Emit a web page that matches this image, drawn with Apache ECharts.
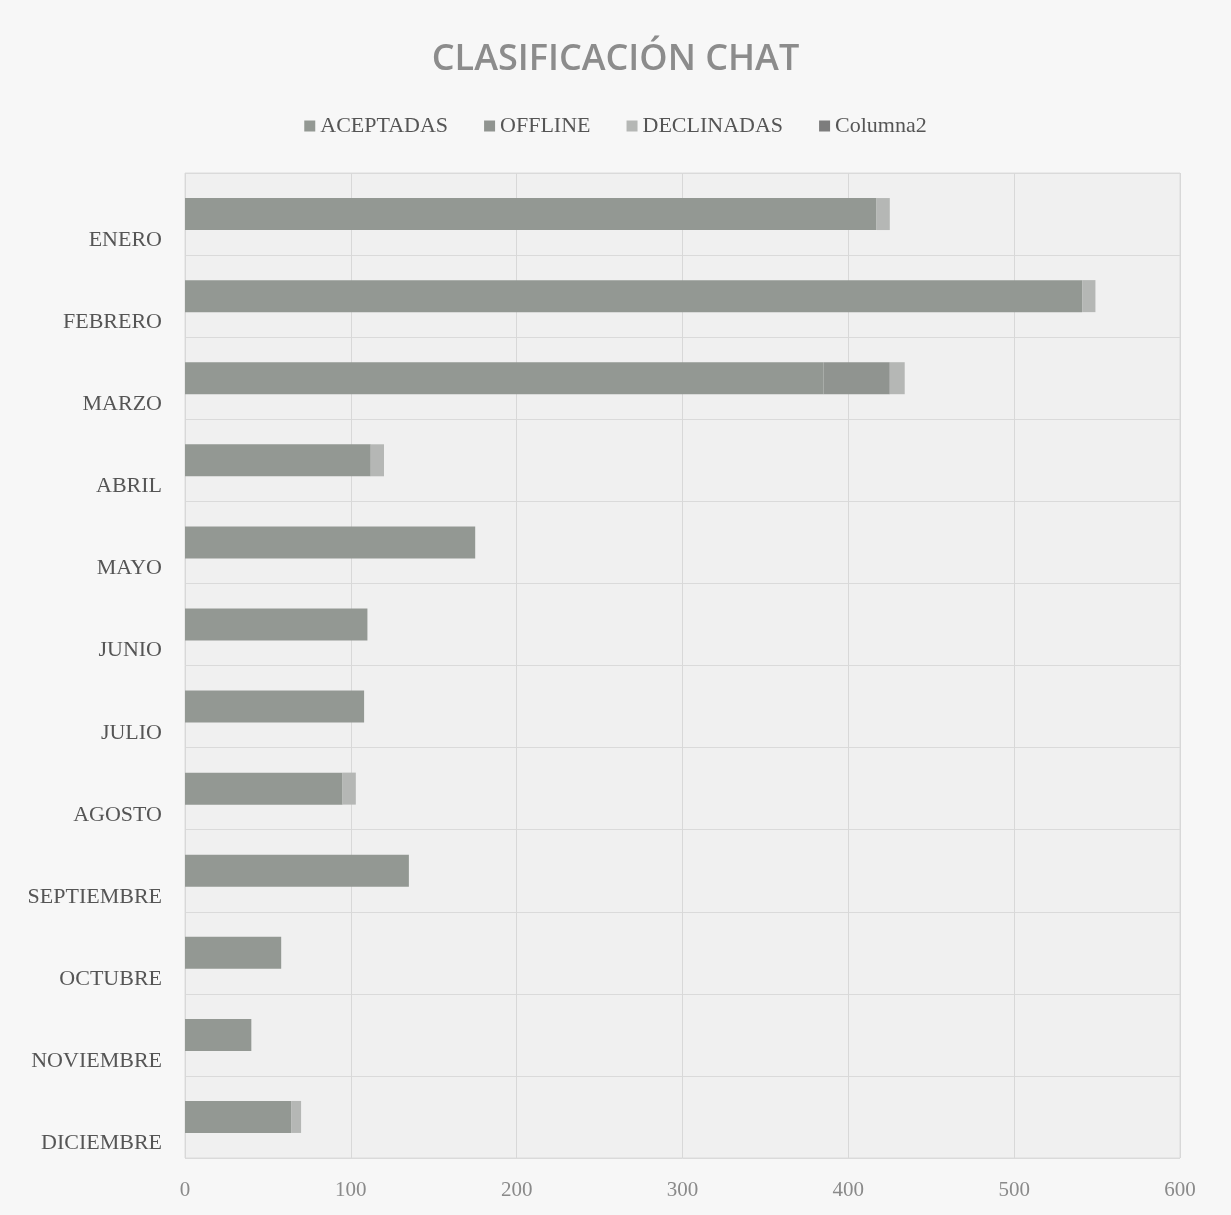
<!DOCTYPE html>
<html>
<head>
<meta charset="utf-8">
<script src="https://cdn.jsdelivr.net/npm/echarts@6/dist/echarts.min.js"></script>
<style>
html,body{margin:0;padding:0;background:#f7f7f7;}
#chart{width:1231px;height:1215px;}
</style>
</head>
<body>
<div id="chart"></div>
<script>
const titleText = 'CLASIFICACIÓN CHAT';
const months = ['ENERO','FEBRERO','MARZO','ABRIL','MAYO','JUNIO','JULIO','AGOSTO','SEPTIEMBRE','OCTUBRE','NOVIEMBRE','DICIEMBRE'];
const seriesNames = ['ACEPTADAS','OFFLINE','DECLINADAS','Columna2'];
const aceptadas = [417, 541, 385, 112, 175, 110, 108, 95, 135, 58, 40, 64];
const offline = [0, 0, 40, 0, 0, 0, 0, 0, 0, 0, 0, 0];
const declinadas = [8, 8, 9, 8, 0, 0, 0, 8, 0, 0, 0, 6];
const columna2 = [0, 0, 0, 0, 0, 0, 0, 0, 0, 0, 0, 0];
const xTicks = [0, 100, 200, 300, 400, 500, 600];

const colors = ['#939893', '#909490', '#b5b7b5', '#7d7d7d'];
const values = [aceptadas, offline, declinadas, columna2];

const chart = echarts.init(document.getElementById('chart'));
chart.setOption({
  backgroundColor: '#f7f7f7',
  animation: false,
  title: {
    text: titleText,
    left: 'center',
    top: 37,
    textStyle: {fontFamily: 'Open Sans', fontSize: 36, fontWeight: 600, color: '#8c8c8c'}
  },
  legend: {
    data: seriesNames,
    top: 110,
    left: 'center',
    icon: 'rect',
    itemWidth: 11,
    itemHeight: 11,
    itemGap: 36,
    textStyle: {fontFamily: 'Liberation Serif', fontSize: 22, color: '#555'}
  },
  grid: {
    left: 185, right: 51, top: 173, bottom: 57,
    show: true, backgroundColor: '#f0f0f0', borderColor: '#dcdcdc', borderWidth: 1
  },
  xAxis: {
    type: 'value',
    min: xTicks[0], max: xTicks[xTicks.length - 1], interval: 100,
    axisLine: {show: false}, axisTick: {show: false},
    splitLine: {show: true, lineStyle: {color: '#d8d8d8', width: 1}},
    axisLabel: {margin: 22, fontFamily: 'Liberation Serif', fontSize: 21, color: '#8a8a8a'}
  },
  yAxis: {
    type: 'category',
    data: months,
    inverse: true,
    axisLine: {show: false}, axisTick: {show: false},
    splitLine: {show: true, lineStyle: {color: '#dadada', width: 1}},
    axisLabel: {
      margin: 23, verticalAlign: 'top', lineHeight: 17.5,
      formatter: v => '\n' + v,
      fontFamily: 'Liberation Serif', fontSize: 22, color: '#555'
    }
  },
  series: seriesNames.map((n, i) => ({
    name: n,
    type: 'bar',
    stack: 'total',
    barWidth: 32,
    data: values[i],
    itemStyle: {color: colors[i]}
  }))
});
</script>
</body>
</html>
